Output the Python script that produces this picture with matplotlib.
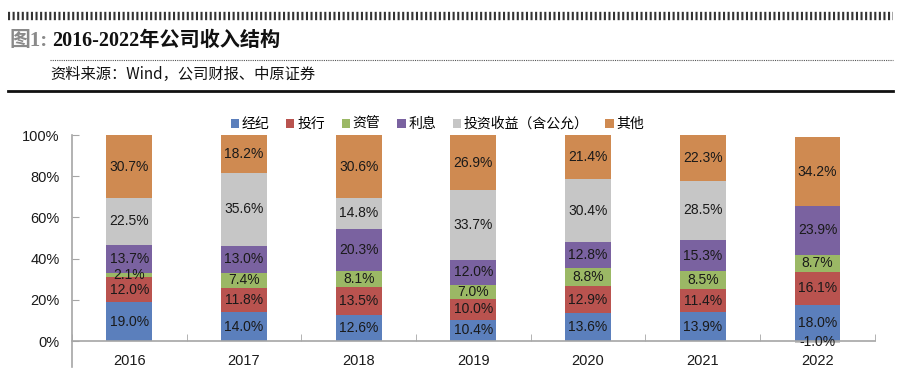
import numpy as np
import matplotlib
matplotlib.use('Agg')
import matplotlib.pyplot as plt
from matplotlib.lines import Line2D
from matplotlib.ticker import FixedLocator, FuncFormatter

plt.rcParams['font.family'] = ['Liberation Sans', 'Noto Sans CJK SC', 'DejaVu Sans']

years = ['2016', '2017', '2018', '2019', '2020', '2021', '2022']
series_names = ['经纪', '投行', '资管', '利息', '投资收益（含公允）', '其他']
brokerage = [19.0, 14.0, 12.6, 10.4, 13.6, 13.9, 18.0]
ib = [12.0, 11.8, 13.5, 10.0, 12.9, 11.4, 16.1]
asset_mgmt = [2.1, 7.4, 8.1, 7.0, 8.8, 8.5, 8.7]
interest = [13.7, 13.0, 20.3, 12.0, 12.8, 15.3, 23.9]
invest = [22.5, 35.6, 14.8, 33.7, 30.4, 28.5, -1.0]
other = [30.7, 18.2, 30.6, 26.9, 21.4, 22.3, 34.2]
colors = ['#5B7FBC', '#B9534F', '#9BB865', '#7A62A0', '#C6C6C6', '#CF8A51']

data = np.array([brokerage, ib, asset_mgmt, interest, invest, other])
# 100% stacked, like the Excel chart
share = data / np.abs(data).sum(axis=0) * 100

fig = plt.figure(figsize=(9, 3.83), dpi=100)
ax = fig.add_axes([0.08, 0.042, 0.892, 0.6055])

x = np.arange(len(years))
pos_bottom = np.zeros(len(years))
neg_bottom = np.zeros(len(years))
for name, vals, raw, c in zip(series_names, share, data, colors):
    bottom = np.where(vals >= 0, pos_bottom, neg_bottom)
    bars = ax.bar(x, vals, 0.4, bottom=bottom, color=c, label=name)
    ax.bar_label(bars, labels=[f'{v:.1f}%' for v in raw], label_type='center',
                 fontsize=10, color='#1a1a1a')
    pos_bottom += np.where(vals >= 0, vals, 0)
    neg_bottom += np.where(vals < 0, vals, 0)

ax.set_xlim(-0.5, len(years) - 0.5)
ax.set_ylim(-12.5, 100)
ax.yaxis.set_major_locator(FixedLocator([0, 20, 40, 60, 80, 100]))
ax.yaxis.set_major_formatter(FuncFormatter(lambda v, p: f'{v:.0f}%'))
ax.set_xticks(x)
ax.set_xticklabels(years)
ax.set_xticks(np.arange(len(years) + 1) - 0.5, minor=True)

for s in ['top', 'right']:
    ax.spines[s].set_visible(False)
ax.spines['bottom'].set_position(('data', 0))
for s in ['bottom', 'left']:
    ax.spines[s].set_color('#A6A6A6')
    ax.spines[s].set_linewidth(1.2)
ax.tick_params(axis='y', direction='in', length=5, color='#A6A6A6',
               labelsize=10.5, labelcolor='#1a1a1a', pad=9)
ax.tick_params(axis='x', which='major', length=0, labelsize=10.5,
               labelcolor='#1a1a1a', pad=9)
ax.tick_params(axis='x', which='minor', direction='in', length=5, color='#A6A6A6')

fig.legend(loc='center', bbox_to_anchor=(0.486, 0.676), ncol=6, frameon=False,
           fontsize=10, handlelength=0.6, handleheight=0.6, handletextpad=0.2,
           columnspacing=1.2, borderaxespad=0)

# header
fig.add_artist(Line2D([0.009, 0.992], [0.958, 0.958], color='#333333', lw=6,
                      linestyle=(0, (0.25, 0.3))))
fig.text(0.011, 0.893, '图1:', fontsize=15, color='#8a8a8a', fontweight='bold',
         family=['Liberation Serif', 'Noto Sans CJK SC'], va='center')
fig.text(0.058, 0.893, '2016-2022年公司收入结构', fontsize=14.5, color='#111111',
         fontweight='bold', family=['Liberation Serif', 'Noto Sans CJK SC'], va='center')
fig.add_artist(Line2D([0.056, 0.992], [0.843, 0.843], color='#555555', lw=0.8,
                      linestyle=(0, (1, 1))))
fig.text(0.056, 0.805, '资料来源：Wind，公司财报、中原证券', fontsize=11, color='#111111',
         family=['Noto Sans CJK SC'], va='center')
fig.add_artist(Line2D([0.009, 0.992], [0.762, 0.762], color='#111111', lw=2))

fig.savefig('out.png', dpi=100)
